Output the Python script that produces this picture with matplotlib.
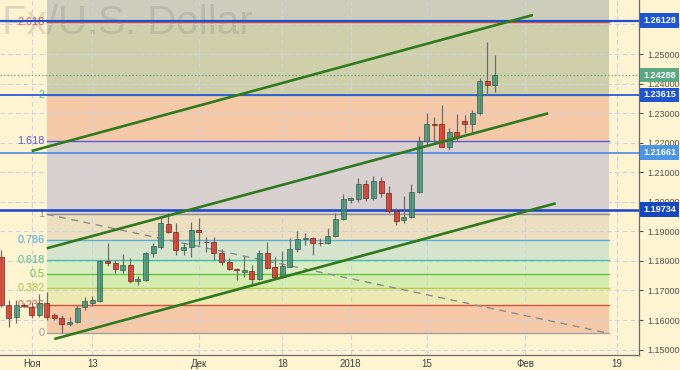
"""EUR/USD daily candles with Fibonacci levels and trend channel"""

import numpy as np
import pandas as pd
import matplotlib
matplotlib.use('Agg')
import matplotlib.pyplot as plt

plt.rcParams['font.family'] = ['Liberation Sans', 'DejaVu Sans']

# Candles: Oct 26 2017 .. Jan 26 2018 (one per trading day)
opens = [1.18143, 1.16509, 1.16103, 1.16499, 1.16451, 1.16171, 1.16587, 1.16171, 1.16079, 1.15866,
         1.15944, 1.16431, 1.16566, 1.16644, 1.17987, 1.17919, 1.17693, 1.17862, 1.17331, 1.17355,
         1.18258, 1.18481, 1.19249, 1.18988, 1.18369, 1.18481, 1.19046, 1.18640, 1.18650, 1.18278,
         1.17953, 1.17717, 1.17615, 1.17669, 1.17399, 1.18278, 1.17784, 1.17446, 1.17804, 1.18393,
         1.18742, 1.18765, 1.18616, 1.18596, 1.18853, 1.19408, 1.20061, 1.20095, 1.20602, 1.20139,
         1.20704, 1.20288, 1.19689, 1.19384, 1.19496, 1.20342, 1.22057, 1.22632, 1.22622, 1.21864,
         1.22371, 1.22733, 1.22622, 1.22994, 1.24087, 1.23951]
highs = [1.18369, 1.16678, 1.16678, 1.16587, 1.16620, 1.16881, 1.16959, 1.16248, 1.16171, 1.16113,
         1.16509, 1.16790, 1.16813, 1.18031, 1.18616, 1.18031, 1.18234, 1.18089, 1.17500, 1.18292,
         1.18596, 1.19442, 1.19611, 1.19273, 1.18616, 1.19327, 1.19442, 1.18799, 1.18799, 1.18393,
         1.18089, 1.17771, 1.18166, 1.17862, 1.18369, 1.18650, 1.18122, 1.18346, 1.18765, 1.19022,
         1.18934, 1.18819, 1.18765, 1.19124, 1.19611, 1.20264, 1.20173, 1.20815, 1.20738, 1.20873,
         1.20849, 1.20535, 1.19780, 1.20196, 1.20602, 1.22226, 1.22994, 1.22859, 1.23275, 1.22486,
         1.22970, 1.22936, 1.23106, 1.24178, 1.25416, 1.24966]
lows = [1.16451, 1.15775, 1.15900, 1.16441, 1.16059, 1.16113, 1.16001, 1.16001, 1.15572, 1.15798,
        1.15910, 1.16340, 1.16475, 1.16610, 1.17838, 1.17602, 1.17602, 1.17243, 1.17185, 1.17331,
        1.18143, 1.18393, 1.18945, 1.18200, 1.18200, 1.18143, 1.18539, 1.18312, 1.18031, 1.17862,
        1.17693, 1.17355, 1.17466, 1.17219, 1.17355, 1.17717, 1.17412, 1.17412, 1.17784, 1.18312,
        1.18539, 1.18200, 1.18505, 1.18572, 1.18819, 1.19384, 1.19949, 1.20003, 1.20037, 1.20061,
        1.20173, 1.19611, 1.19215, 1.19273, 1.19442, 1.20288, 1.21888, 1.22033, 1.21844, 1.21752,
        1.22091, 1.22338, 1.22317, 1.22936, 1.23613, 1.23725]
closes = [1.16509, 1.16069, 1.16509, 1.16482, 1.16171, 1.16587, 1.16093, 1.16079, 1.15866, 1.15944,
          1.16417, 1.16644, 1.16678, 1.17997, 1.17919, 1.17717, 1.17862, 1.17331, 1.17388, 1.18258,
          1.18505, 1.19293, 1.18988, 1.18369, 1.18481, 1.19046, 1.18968, 1.18627, 1.18278, 1.17953,
          1.17727, 1.17706, 1.17693, 1.17399, 1.18278, 1.17771, 1.17446, 1.17828, 1.18403, 1.18731,
          1.18765, 1.18596, 1.18610, 1.18853, 1.19418, 1.20085, 1.20139, 1.20602, 1.20118, 1.20714,
          1.20288, 1.19699, 1.19361, 1.19496, 1.20342, 1.22057, 1.22622, 1.22588, 1.21864, 1.22371,
          1.22182, 1.22632, 1.22994, 1.24097, 1.23951, 1.24288]

# Trading calendar (Christmas day skipped)
calendar = pd.bdate_range('2017-10-26', '2018-02-28').drop(pd.Timestamp('2017-12-25'))
day = {d: i for i, d in enumerate(calendar)}
candle_x = np.arange(len(opens))

tick_dates = ['2017-11-01', '2017-11-13', '2017-12-01', '2017-12-18',
              '2018-01-01', '2018-01-15', '2018-02-01', '2018-02-19']
tick_labels = ['Ноя', '13', 'Дек', '18', '2018', '15', 'Фев', '19']

# Fibonacci grid
fib_start, fib_end = '2017-11-03', '2018-02-16'
fib_low, fib_high = 1.15551, 1.19577
fib_ratios = [0, 0.236, 0.382, 0.5, 0.618, 0.786, 1, 1.618, 2, 2.618]
fib_labels = ['0', '0.236', '0.382', '0.5', '0.618', '0.786', '1', '1.618', '2', '2.618']

# Channel lines (date, price) pairs
channel = [(('2017-11-01', 1.21718), ('2018-02-02', 1.26319)),
           (('2017-11-03', 1.18427), ('2018-02-06', 1.22994)),
           (('2017-11-06', 1.15359), ('2018-02-07', 1.19949))]

# Horizontal price marks
level_prices = [1.26128, 1.23615, 1.21661, 1.19734]
last_price = 1.24288

# ---- styling ----
bg = '#fff4d2'
fib_line_colors = ['#a0a0a0', '#d9503f', '#b3d046', '#62c843', '#3fc39c',
                   '#5aaed6', '#8f8f8f', '#5858d2', '#3cbfa2', '#d9503f']
fib_text_colors = ['#a0a0a0', '#e05a4a', '#a9c63c', '#5cc83e', '#3cc39a',
                   '#4fa6d8', '#909090', '#5a5ad0', '#3cc3a2', '#e05a4a']
fib_fills = ['#f5c8a8', '#ece9b3', '#d6ebb0', '#d9ecc2', '#d7e4cd',
             '#ebdfc0', '#d8cfcf', '#f5c8a8', '#cfcfab', '#cdcdbb']
level_colors = ['#1f4fd1', '#2a5bd7', '#4a8ae8', '#1a44c8']
level_widths = [1.6, 1.3, 1.2, 1.8]
box_colors = ['#1f55d0', '#1f55d0', '#4a95e8', '#1448c0']

fig = plt.figure(figsize=(6.8, 3.7), dpi=100, facecolor=bg)
ax = fig.add_axes([0, 15 / 370, 639 / 680, 355 / 370], facecolor=bg)

ymin, ymax = 1.14817, 1.26827
xmin, xmax = -0.16, 83.96
ax.set_xlim(xmin, xmax)
ax.set_ylim(ymin, ymax)

# watermark
ax.text(253 / 639, 1 - 23 / 355, 'Euro Fx/U.S. Dollar', transform=ax.transAxes,
        ha='right', va='center', fontsize=29, color='#808080', alpha=0.25, zorder=1.3)

# fib zones
fx0, fx1 = day[pd.Timestamp(fib_start)], day[pd.Timestamp(fib_end)]
span = fib_high - fib_low
fib_prices = [fib_low + r * span for r in fib_ratios]
bounds = fib_prices + [ymax]
for i in range(len(fib_fills)):
    ax.fill_between([fx0, fx1], bounds[i], bounds[i + 1], color=fib_fills[i], lw=0, zorder=1)
for p, lab, lc, tc in zip(fib_prices, fib_labels, fib_line_colors, fib_text_colors):
    ax.plot([fx0, fx1], [p, p], color=lc, lw=1, zorder=2)
    ax.text(fx0 - 0.3, p, lab, ha='right', va='center', fontsize=7.8, color=tc, zorder=2)
ax.plot([fx0, fx1], [fib_high, fib_low], color='#8c8c8c', lw=1, ls=(0, (5, 4)), zorder=2)

# grid
ax.set_axisbelow('line')
ax.grid(True, color='#cdd2e2', lw=0.8, ls=(0, (4, 3)))

# price levels
for p, c, w in zip(level_prices, level_colors, level_widths):
    ax.axhline(p, color=c, lw=w, zorder=2.5)
ax.axhline(last_price, color='#6aa882', lw=1, ls=(0, (1, 1.5)), zorder=2.5)

# channel
for (d0, p0), (d1, p1) in channel:
    ax.plot([day[pd.Timestamp(d0)], day[pd.Timestamp(d1)]], [p0, p1],
            color='#2e7a1c', lw=1.9, solid_capstyle='butt', zorder=5)

# candles
o = np.array(opens); h = np.array(highs); l = np.array(lows); c = np.array(closes)
up = c >= o
ax.vlines(candle_x, l, h, color='#6c6c6c', lw=0.9, zorder=3)
body = np.maximum(np.abs(c - o), 0.00012)
bottom = np.minimum(o, c)
ax.bar(candle_x[up], body[up], bottom=bottom[up], width=0.66, color='#3f8f74',
       alpha=0.8, edgecolor='#2d5a48', lw=0.6, zorder=4)
ax.bar(candle_x[~up], body[~up], bottom=bottom[~up], width=0.66, color='#d23b2e',
       alpha=0.85, edgecolor='#7a2418', lw=0.6, zorder=4)

# axes
ax.yaxis.tick_right()
ax.set_yticks(np.arange(1.15, 1.2601, 0.01))
ax.yaxis.set_major_formatter(matplotlib.ticker.FormatStrFormatter('%.5f'))
ax.tick_params(axis='y', labelsize=6.5, colors='#505050', length=3, pad=3, labelcolor='#505050')
ax.set_xticks([day[pd.Timestamp(d)] for d in tick_dates])
ax.set_xticklabels(tick_labels)
ax.tick_params(axis='x', labelsize=7, length=0, pad=3, labelcolor='#404040')
for s in ['left', 'top']:
    ax.spines[s].set_visible(False)
for s in ['right', 'bottom']:
    ax.spines[s].set_color('#6a6a6a')
    ax.spines[s].set_linewidth(0.9)

# price boxes
for p, bc in zip(level_prices, box_colors):
    ax.annotate(f'{p:.5f}', xy=(1, p), xycoords=('axes fraction', 'data'),
                xytext=(3, 0), textcoords='offset points', ha='left', va='center',
                fontsize=6.5, fontweight='bold', color='white', annotation_clip=False,
                bbox=dict(boxstyle='square,pad=0.3', fc=bc, ec='none'), zorder=6)
ax.annotate(f'{last_price:.5f}', xy=(1, last_price), xycoords=('axes fraction', 'data'),
            xytext=(3, 0), textcoords='offset points', ha='left', va='center',
            fontsize=6.5, fontweight='bold', color='white', annotation_clip=False,
            bbox=dict(boxstyle='square,pad=0.3', fc='#5aa882', ec='none'), zorder=6)

fig.savefig('out.png', dpi=100, facecolor=bg)
